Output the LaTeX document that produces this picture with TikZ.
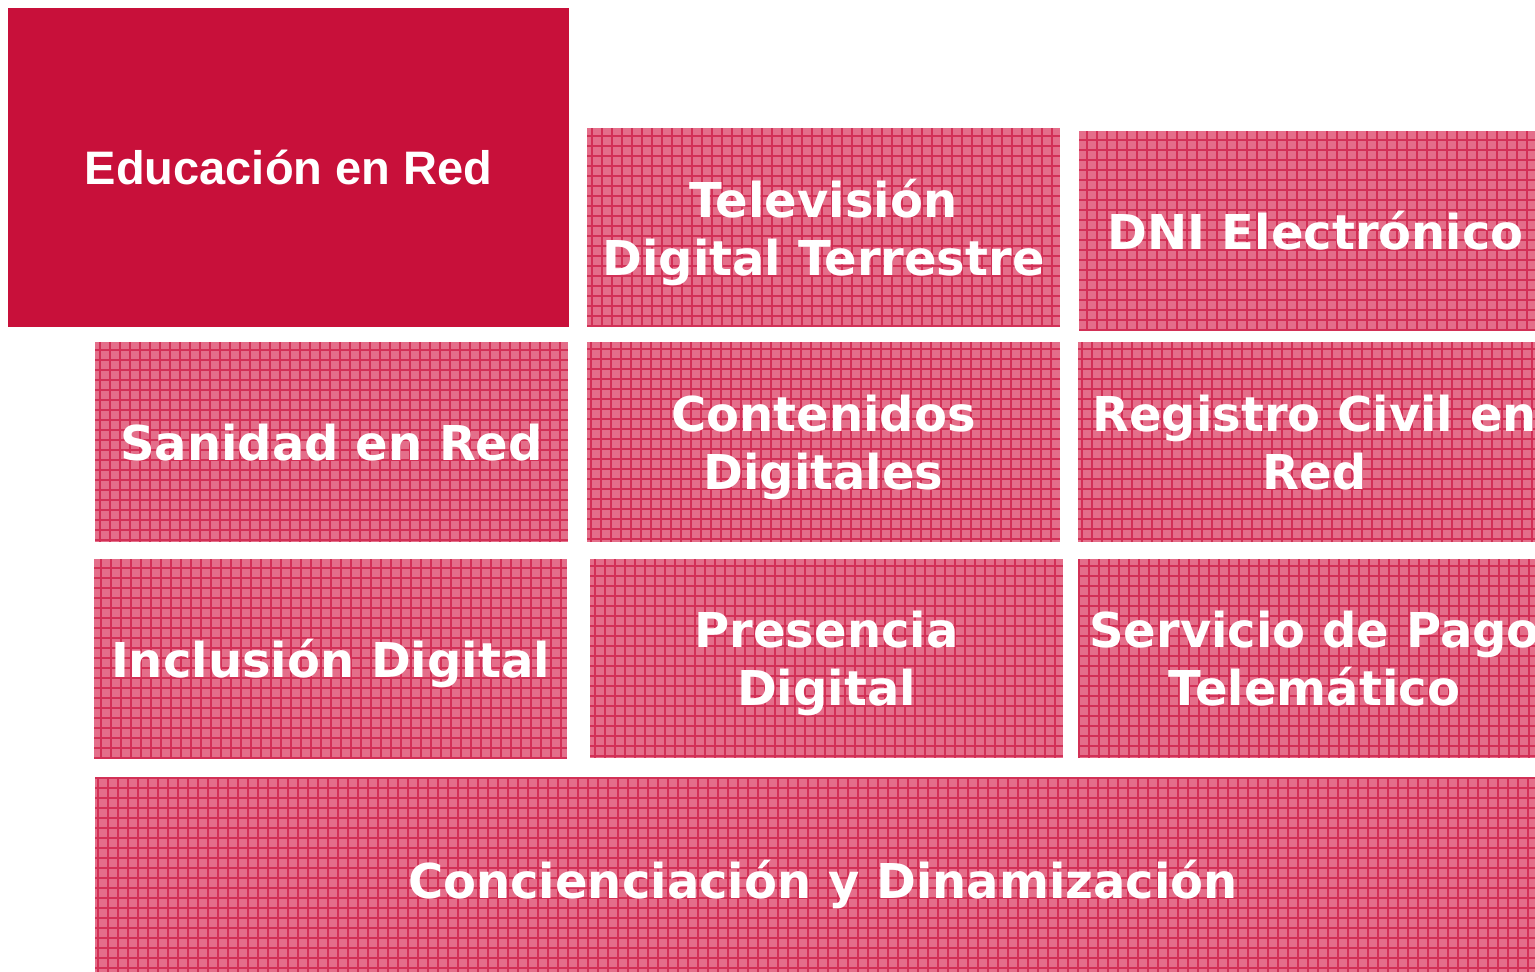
\documentclass[tikz,border=0pt]{standalone}
\usepackage{fontspec}
\setmainfont{DejaVu Sans}
\newfontfamily\arialfont{Liberation Sans}
\definecolor{crimson}{RGB}{200,16,58}
\definecolor{tilepink}{RGB}{228,110,138}
\definecolor{tileline}{RGB}{210,48,86}

\tikzset{
  tile/.style={fill=tilepink, text=white, inner sep=0pt, outer sep=0pt,
    anchor=north west, align=center, text depth=0pt,
    font=\bfseries\fontsize{24}{29}\selectfont,
    minimum width=236.5pt, minimum height=100pt,
    path picture={\draw[tileline, line width=1pt, step=5pt]
      (path picture bounding box.south west) grid (path picture bounding box.north east);}},
  headtile/.style={tile, fill=crimson, path picture={},
    font=\arialfont\bfseries\fontsize{23.5}{28}\selectfont}
}

\begin{document}
\begin{tikzpicture}[x=0.5pt,y=-0.5pt]

    \useasboundingbox (0,0) rectangle (1535,971);
    \clip (0,0) rectangle (1535,971);

    \node[headtile, minimum width=280.5pt, minimum height=159.5pt] (edu) at (8,8) {Educación en Red};
    \node[tile, minimum height=99.5pt] (tdt) at (587,128) {Televisión\\Digital Terrestre};
    \node[tile, minimum height=99.5pt] (dni) at (1079,131) {DNI Electrónico};

    \node[tile] (san) at (95,342) {Sanidad en Red};
    \node[tile] (con) at (587,342) {Contenidos\\Digitales};
    \node[tile] (reg) at (1078,342) {Registro Civil en\\Red};

    \node[tile, minimum height=99.5pt] (inc) at (94,559) {Inclusión Digital};
    \node[tile, minimum height=99.5pt] (pre) at (590,559) {Presencia\\Digital};
    \node[tile, minimum height=99.5pt] (ser) at (1078,559) {Servicio de Pago\\Telemático};

    \node[tile, minimum width=728pt, minimum height=102pt] (din) at (95,777) {Concienciación y Dinamización};
        \end{tikzpicture}
\end{document}
